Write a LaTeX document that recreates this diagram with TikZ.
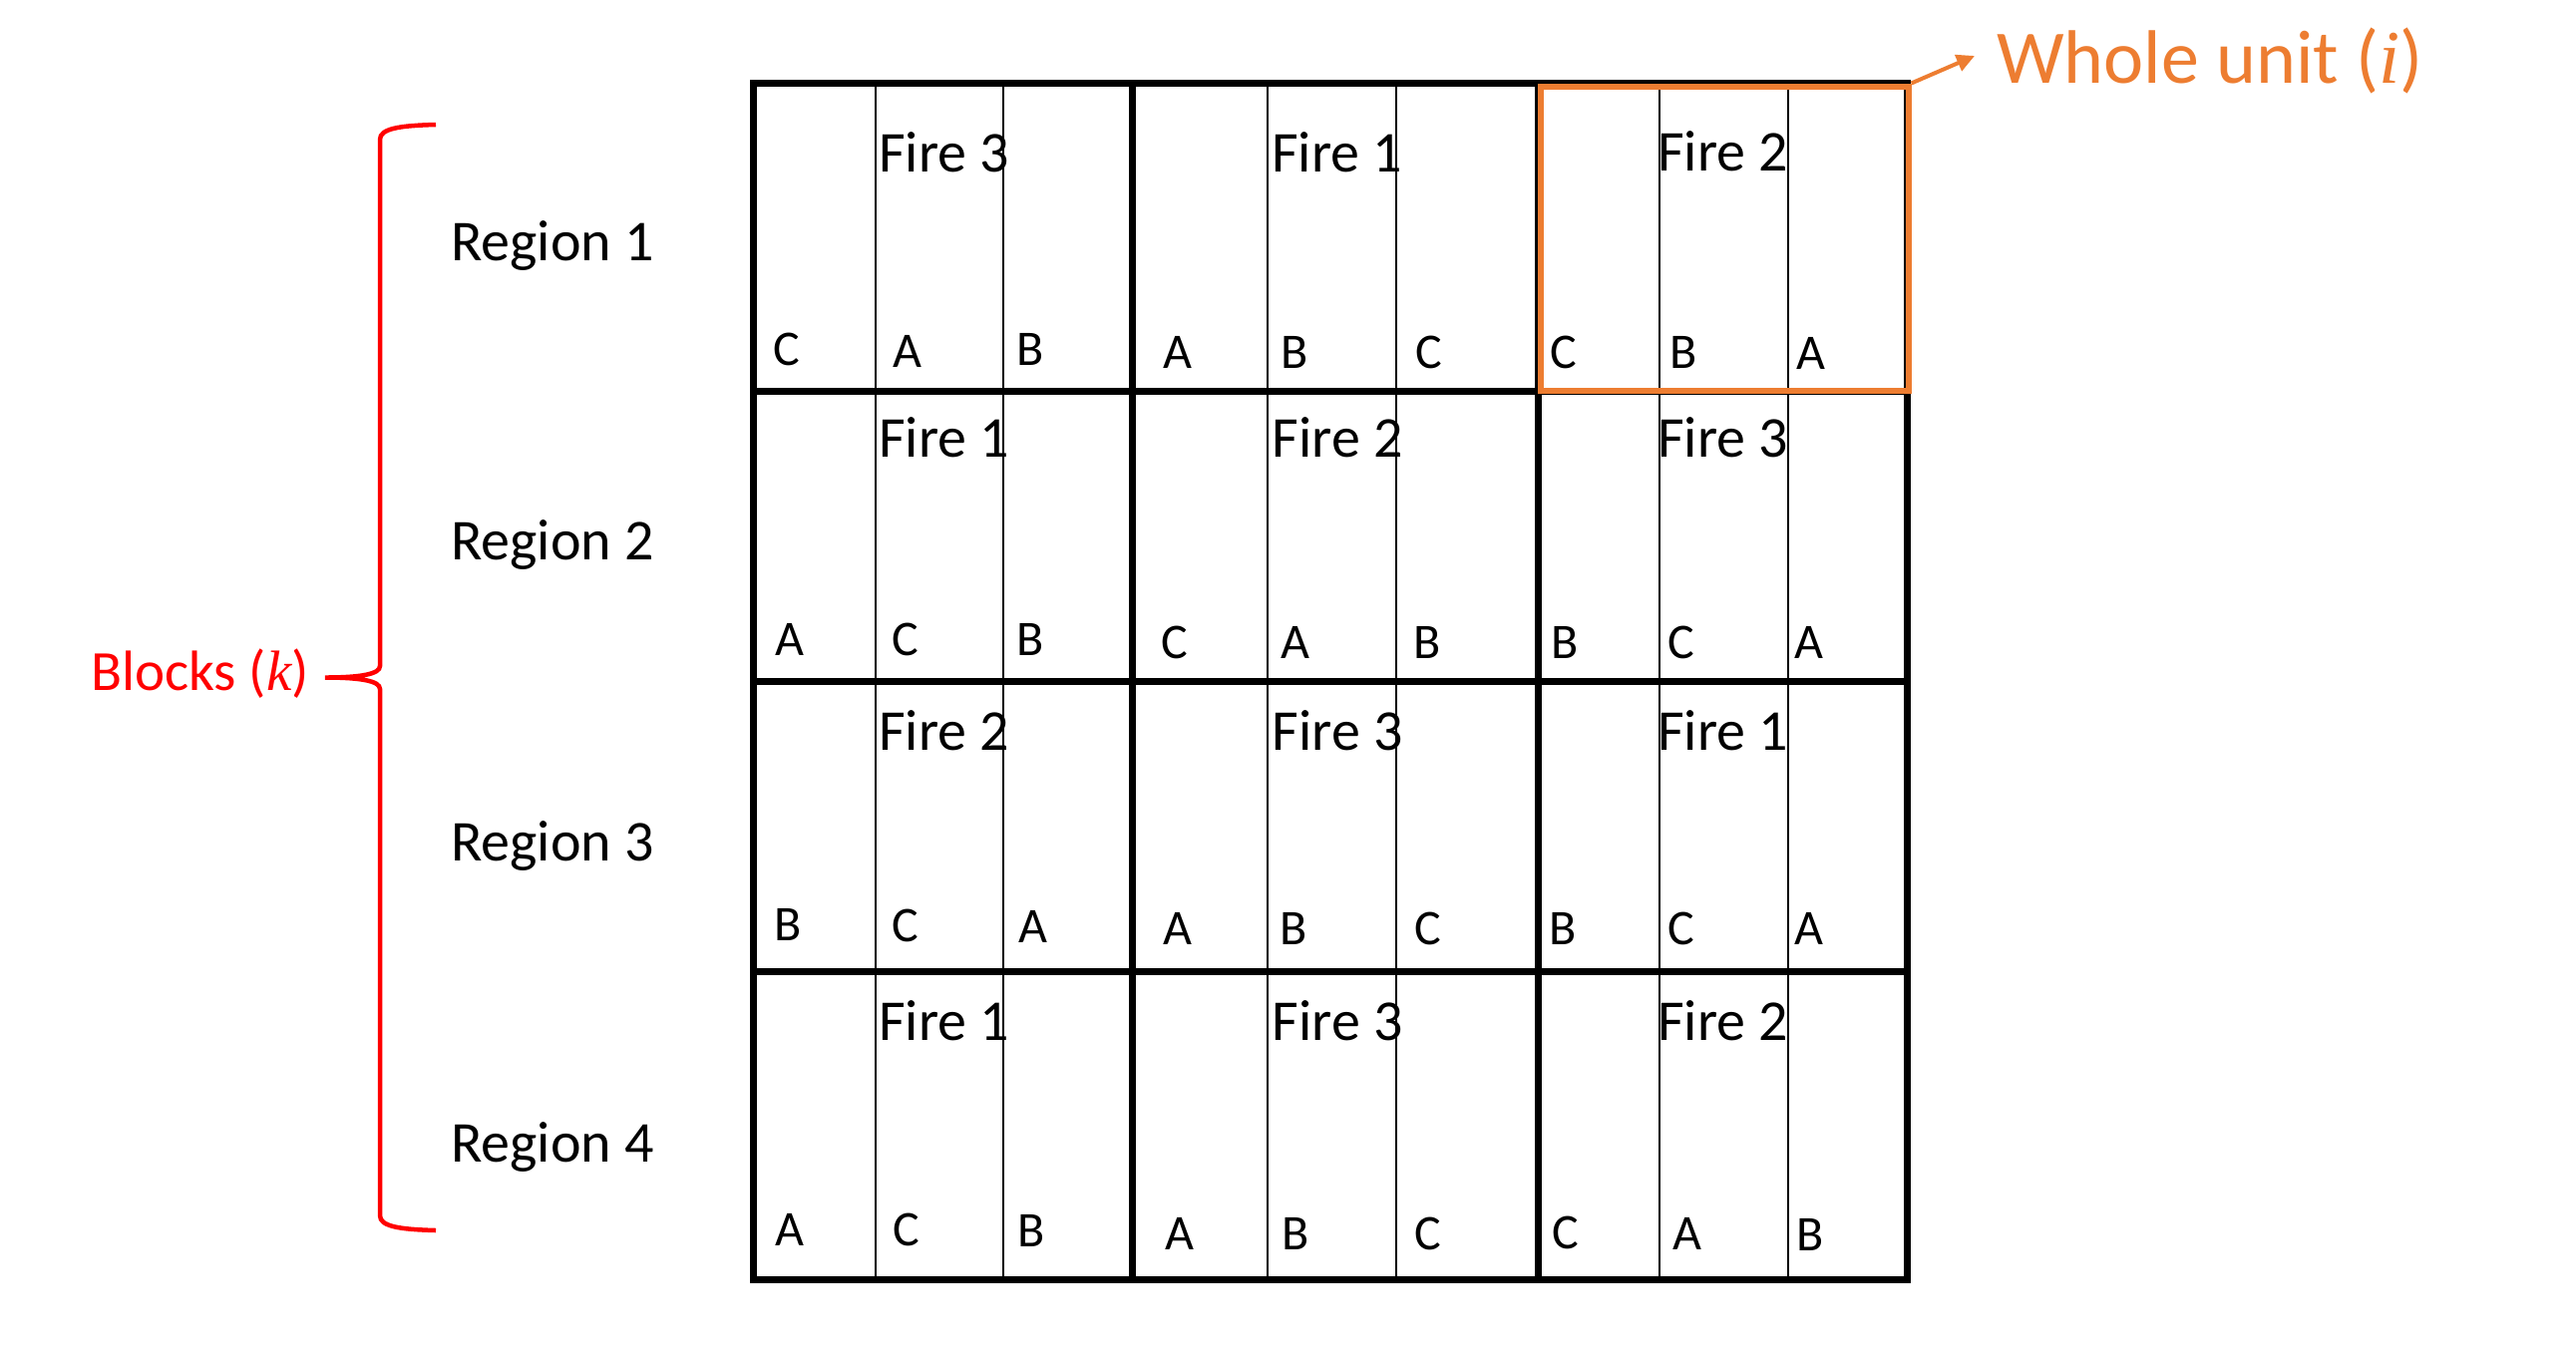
\documentclass[tikz,border=0pt]{standalone}
\usepackage{fontspec}
\setmainfont{Carlito}
\newfontfamily\varfont{Liberation Serif}
\newcommand{\varit}[1]{{\varfont\itshape #1}}
\usetikzlibrary{arrows.meta}
\definecolor{unitorange}{RGB}{237,125,49}
\definecolor{bracered}{RGB}{255,0,0}
\tikzset{
  gridthick/.style={line width=7pt, black, line join=miter},
  gridthin/.style={line width=2pt, black},
  firelbl/.style={anchor=base west, inner sep=0pt, font=\fontsize{58}{60}\selectfont},
  letlbl/.style={anchor=base west, inner sep=0pt, font=\fontsize{50}{52}\selectfont},
  reglbl/.style={anchor=base west, inner sep=0pt, font=\fontsize{58}{60}\selectfont},
  blocklbl/.style={anchor=base west, inner sep=0pt, text=bracered, font=\fontsize{57}{59}\selectfont},
  unitlbl/.style={anchor=base west, inner sep=0pt, text=unitorange, font=\fontsize{76}{78}\selectfont},
  unitbox/.style={draw=unitorange, line width=6pt, inner sep=0pt, anchor=north west},
}
\begin{document}
\begin{tikzpicture}[x=1pt, y=-1pt]
\useasboundingbox (0,0) rectangle (2583,1361);
\fill[white] (0,0) rectangle (2583,1361);

% thin sub-column lines
\foreach \x in {877.7,1005.8,1271.4,1400.3,1663.5,1792.6}
  \draw[gridthin] (\x,83) -- (\x,1283);

% thick grid lines
\foreach \y in {392.5,683,974}
  \draw[gridthick] (755.5,\y) -- (1912,\y);
\foreach \x in {1135,1542}
  \draw[gridthick] (\x,83) -- (\x,1283);
\draw[gridthick] (755.5,83) rectangle (1912,1283);

% Fire labels
\foreach \x/\y/\t [count=\i] in {
  881/172/3, 1275/172/1, 1662/171/2,
  881/458.3/1, 1275.5/458.3/2, 1662/458.3/3,
  881/752.7/2, 1275.5/752.7/3, 1662/752.7/1,
  881/1043.3/1, 1275.5/1043.3/3, 1662/1043.3/2}
  \node[firelbl] (fire\i) at (\x,\y) {Fire \t};

% letter labels
\foreach \x/\y/\t [count=\i] in {
  775.5/366/C, 895.5/368/A, 1019.7/366/B,
  1166/369/A, 1284/369/B, 1419.5/369/C,
  1554.5/369/C, 1674/369/B, 1801.5/370/A,
  777.5/657/A, 894.5/657/C, 1019/657.5/B,
  1164.5/660/C, 1284.5/660.5/A, 1417/660/B,
  1555/660/B, 1672.5/660.5/C, 1799.5/660.5/A,
  776/943/B, 894.5/944/C, 1021/945/A,
  1166.5/947/A, 1283/947/B, 1418.5/947/C,
  1553/947/B, 1672.5/947/C, 1799.5/947.5/A,
  777.5/1249/A, 895.5/1249.5/C, 1020.7/1250/B,
  1168/1253/A, 1285.5/1253/B, 1418.5/1253/C,
  1556.5/1252/C, 1677/1253/A, 1801/1254/B}
  \node[letlbl] (let\i) at (\x,\y) {\t};

% region labels
\node[reglbl] (reg1) at (452,261.7) {Region 1};
\node[reglbl] (reg2) at (452,561.7) {Region 2};
\node[reglbl] (reg3) at (452,863.3) {Region 3};
\node[reglbl] (reg4) at (452,1165) {Region 4};

% brace and blocks label
\draw[bracered, line width=4.5pt]
  (437,125) .. controls (400,126) and (381,129) .. (381,140)
  -- (381,668) .. controls (381,676) and (362,679.5) .. (326,679.5)
  .. controls (362,679.5) and (381,683) .. (381,691)
  -- (381,1219) .. controls (381,1230) and (400,1233) .. (437,1234);
\node[blocklbl] (blocks) at (91,692.7) {Blocks (\varit{k})};

% whole unit box, arrow and label
\node[unitbox, minimum width=369pt, minimum height=305pt] (unit) at (1541.5,83.5) {};
\node[unitlbl] (unitlabel) at (2002,83.3) {Whole unit (\varit{i})};
\coordinate (unittip) at (1980,56);
\draw[unitorange, line width=4pt, -{Triangle[length=18pt,width=17pt]}] (unit.north east) -- (unittip);
\end{tikzpicture}
\end{document}
